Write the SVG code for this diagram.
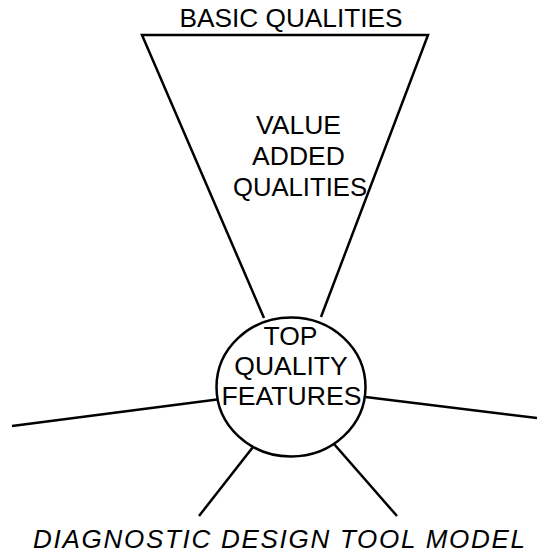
<svg xmlns="http://www.w3.org/2000/svg" width="537" height="553" viewBox="0 0 537 553">
  <style>
    .ln { fill: none; stroke: #000; stroke-width: 2.5; stroke-linecap: butt; }
    .lbl { font-family: "Liberation Sans", Arial, sans-serif; font-size: 26.5px; fill: #000; text-anchor: middle; }
    .cap { font-family: "Liberation Sans", Arial, sans-serif; font-size: 26px; font-style: italic; fill: #000; }
  </style>
  <rect width="537" height="553" fill="#fff"/>

  <g id="connectors">
    <!-- spokes radiating from the central node -->
    <line class="ln" x1="12" y1="426" x2="217" y2="399.5"/>
    <line class="ln" x1="365.5" y1="397" x2="537" y2="418"/>
    <line class="ln" x1="253" y1="447" x2="199" y2="516"/>
    <line class="ln" x1="334" y1="444" x2="397" y2="516"/>
  </g>

  <g id="funnel">
    <polyline class="ln" points="264,318 142,35 428,35 321,317"/>
    <text class="lbl" x="291" y="27" textLength="223" lengthAdjust="spacingAndGlyphs">BASIC QUALITIES</text>
    <text class="lbl" x="298.5" y="133.5">VALUE</text>
    <text class="lbl" x="298.5" y="164.5">ADDED</text>
    <text class="lbl" x="300" y="195.5" textLength="134" lengthAdjust="spacingAndGlyphs">QUALITIES</text>
  </g>

  <g id="top-quality-features">
    <ellipse class="ln" cx="291" cy="387" rx="74.5" ry="69.5" fill="#fff"/>
    <text class="lbl" x="290.5" y="345">TOP</text>
    <text class="lbl" x="291" y="375">QUALITY</text>
    <text class="lbl" x="291.5" y="405" textLength="140" lengthAdjust="spacingAndGlyphs">FEATURES</text>
  </g>

  <g id="caption">
    <text class="cap" x="33" y="548" textLength="492" lengthAdjust="spacing">DIAGNOSTIC DESIGN TOOL MODEL</text>
  </g>
</svg>
